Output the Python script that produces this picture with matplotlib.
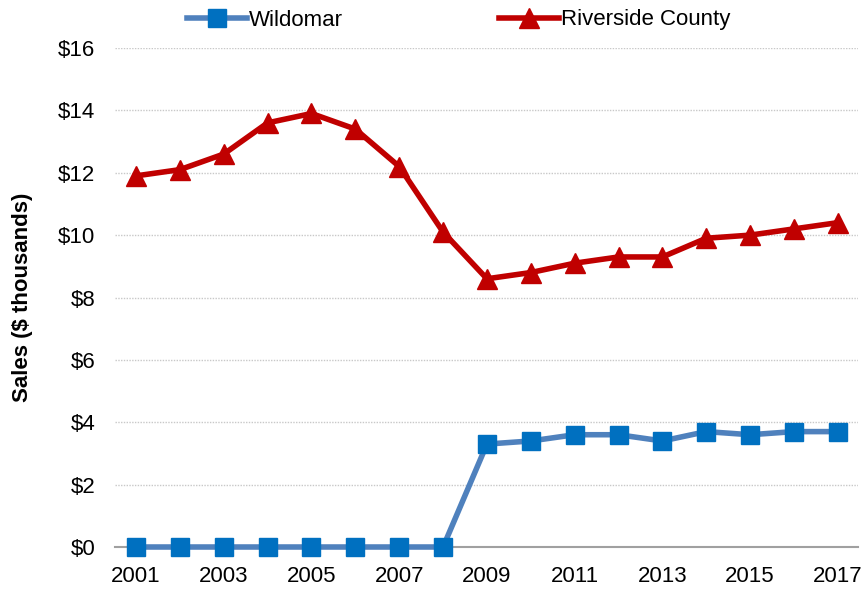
import matplotlib
matplotlib.use('Agg')
import matplotlib.pyplot as plt
from matplotlib.ticker import FuncFormatter

years = list(range(2001, 2018))
wildomar = [0, 0, 0, 0, 0, 0, 0, 0, 3.3, 3.4, 3.6, 3.6, 3.4, 3.7, 3.6, 3.7, 3.7]
riverside = [11.9, 12.1, 12.6, 13.6, 13.9, 13.4, 12.2, 10.1, 8.6, 8.8, 9.1, 9.3, 9.3,
             9.9, 10.0, 10.2, 10.4]
x_ticks = list(range(2001, 2018, 2))
y_ticks = list(range(0, 17, 2))

plt.rcParams['font.family'] = ['Liberation Sans', 'DejaVu Sans']

fig = plt.figure(figsize=(8.62, 5.93), dpi=100)
ax = fig.add_axes([115 / 862, 46 / 593, 743 / 862, 499 / 593])

ax.plot(years, wildomar, color='#4f81bd', lw=4, marker='s', markersize=13,
        markerfacecolor='#0070c0', markeredgecolor='#0070c0', label='Wildomar',
        zorder=3, clip_on=False)
ax.plot(years, riverside, color='#c00000', lw=4, marker='^', markersize=14,
        markerfacecolor='#c00000', markeredgecolor='#c00000', label='Riverside County',
        zorder=3, clip_on=False)

ax.set_xlim(2000.52, 2017.46)
ax.set_ylim(0, 16)
ax.set_xticks(x_ticks)
ax.set_yticks(y_ticks)
ax.yaxis.set_major_formatter(FuncFormatter(lambda v, p: f'${v:.0f}'))
ax.tick_params(axis='both', length=0, labelsize=16)
ax.tick_params(axis='y', pad=14)
ax.tick_params(axis='x', pad=14)

for s in ['top', 'right', 'left']:
    ax.spines[s].set_visible(False)
ax.spines['bottom'].set_color('#a0a0a0')
ax.spines['bottom'].set_linewidth(1.5)
ax.spines['bottom'].set_zorder(2)
ax.grid(axis='y', color='#c8c8c8', linestyle=(0, (1, 1)), lw=1)
ax.set_axisbelow(True)

ax.set_ylabel('Sales ($ thousands)', fontsize=16, fontweight='bold', labelpad=18)

fig.legend(*ax.get_legend_handles_labels(), loc='center left',
           bbox_to_anchor=(187 / 862, 1 - 20 / 593), ncol=2, frameon=False,
           fontsize=16, columnspacing=7, handlelength=2.7, handletextpad=0.1,
           borderpad=0, borderaxespad=0)

fig.savefig('out.png', dpi=100)
